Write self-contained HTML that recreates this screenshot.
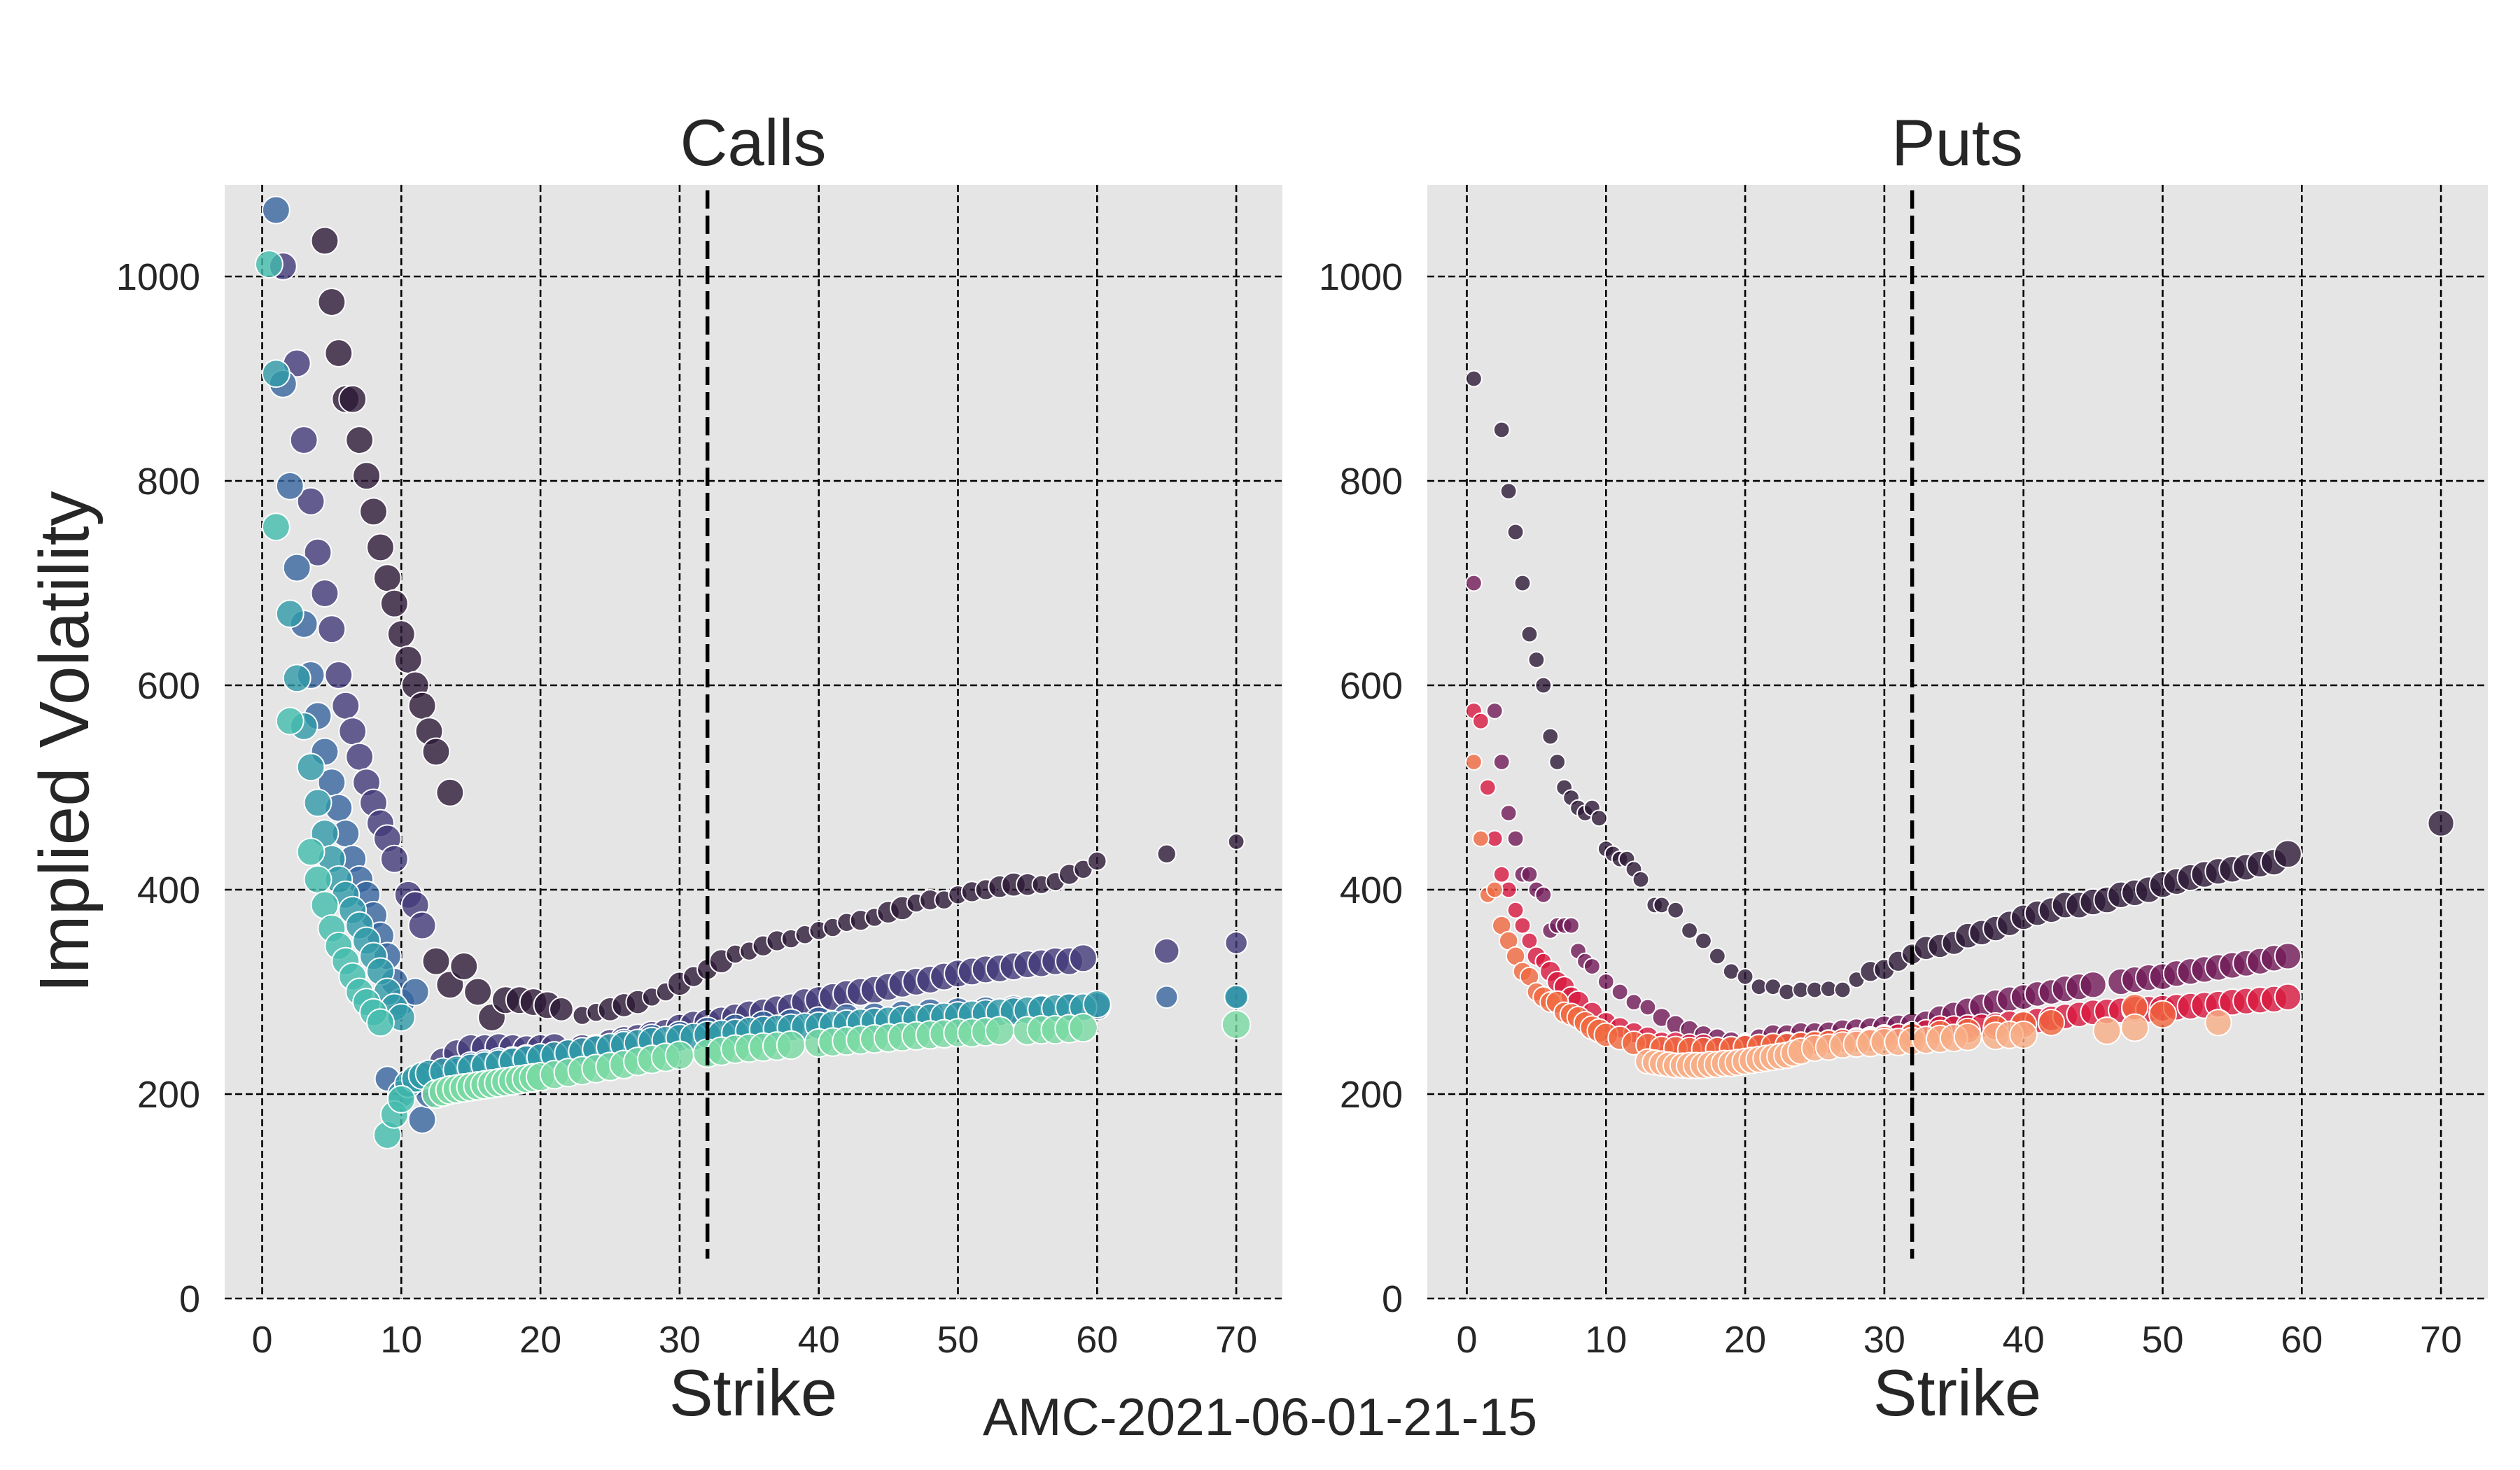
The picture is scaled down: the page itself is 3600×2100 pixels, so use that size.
<!DOCTYPE html>
<html><head><meta charset="utf-8"><style>
html,body{margin:0;padding:0;background:#fff;}
svg{display:block;font-family:"Liberation Sans",Arial,sans-serif;}
</style></head><body>
<svg id="chart" width="3600" height="2100" viewBox="0 0 3600 2100" xmlns="http://www.w3.org/2000/svg">
<rect width="3600" height="2100" fill="#ffffff"/>
<rect x="321" y="264" width="1511" height="1591" fill="#e5e5e5"/>
<rect x="2039" y="264" width="1515" height="1591" fill="#e5e5e5"/>
<g id="calls-grid"></g><g id="puts-grid"></g>
<g id="calls-marks"></g><g id="puts-marks"></g>
<g id="overlay"></g>
<text x="1076" y="236" font-size="94" text-anchor="middle" fill="#262626">Calls</text>
<text x="2796" y="236" font-size="94" text-anchor="middle" fill="#262626">Puts</text>
<text x="1076" y="2022" font-size="94" text-anchor="middle" fill="#262626">Strike</text>
<text x="2796" y="2022" font-size="94" text-anchor="middle" fill="#262626">Strike</text>
<text x="0" y="0" font-size="100" text-anchor="middle" fill="#262626" transform="translate(126,1060) rotate(-90)">Implied Volatility</text>
<text x="1800" y="2050" font-size="75" text-anchor="middle" fill="#262626">AMC-2021-06-01-21-15</text>
</svg>
<script>
const xTicks=[0,10,20,30,40,50,60,70];
const yTicks=[0,200,400,600,800,1000];
const spotPrice=32;
// Calls
const cAs=[4.5,5,5.5,6,6.5,7,7.5,8,8.5,9,9.5,10,10.5,11,11.5,12,12.5,13.5,12.5,13.5,14.5,15.5,16.5,17.5,18.5,19.5,20.5,21.5,23,24,25,26,27,28,29,30,31,32,33,34,35,36,37,38,39,40,41,42,43,44,45,46,47,48,49,50,51,52,53,54,55,56,57,58,59,60,65,70];
const cAv=[1035,975,925,880,880,840,805,770,735,705,680,650,625,600,580,555,535,495,330,307,325,300,275,292,292,290,287,283,277,280,283,287,290,295,300,308,315,322,330,337,340,345,350,352,356,360,363,368,370,373,378,382,387,390,390,395,398,400,403,405,405,405,408,415,420,428,435,447];
const cAz=[8,8,8,8,8,8,8,8,8,8,8,8,8,8,8,8,8,8,8,8,8,8,8,8,8,8,8,5,2,2,5,5,5,2,2,5,3,3,5,2,2,3,3,2,2,2,2,2,3,2,4,5,2,3,2,2,3,3,4,5,4,2,2,3,2,2,2,1];
const cBs=[1.5,2.5,3,3.5,4,4.5,5,5.5,6,6.5,7,7.5,8,8.5,9,9.5,10.5,11,11.5,12,13,14,15,16,17,18,19,20,21,22,23,24,25,26,27,28,29,30,31,32,33,34,35,36,37,38,39,40,41,42,43,44,45,46,47,48,49,50,51,52,53,54,55,56,57,58,59,65,70];
const cBv=[1010,915,840,780,730,690,655,610,580,555,530,505,485,465,450,430,395,385,365,220,232,240,245,245,246,245,244,245,246,240,245,245,250,253,255,258,260,265,268,270,272,275,278,280,283,285,290,292,295,298,300,302,305,308,310,312,315,318,320,322,323,325,327,328,330,330,333,340,348];
const cBz=[8,8,8,8,8,8,8,8,8,8,8,8,8,8,8,8,8,8,8,8,8,8,8,8,8,8,8,8,8,8,8,8,8,8,8,8,8,8,8,8,8,8,8,8,8,8,8,8,8,8,8,8,8,8,8,8,8,8,8,8,8,8,8,8,8,8,8,6,4];
const cCs=[1,1.5,2,2.5,3,3.5,4,4.5,5,5.5,6,6.5,7,7.5,8,8.5,9,9.5,10,11,9,11.5,12,13,14,15,16,17,18,19,20,22,24,26,28,30,32,34,36,38,40,42,44,46,48,50,52,54,56,58,60,65,70];
const cCv=[1065,895,795,715,660,610,570,535,505,480,455,430,410,395,375,355,335,310,290,300,215,175,200,215,222,228,230,232,233,235,236,240,245,250,255,258,262,265,268,270,272,275,276,278,280,281,282,283,284,285,286,295,295];
const cCz=[8,8,8,8,8,8,8,8,8,8,8,8,8,8,8,8,8,8,8,8,6,8,8,8,8,8,8,8,8,8,8,8,8,8,8,8,8,8,8,8,8,8,8,8,8,8,8,8,8,8,8,4,4];
const cDs=[1,2,2.5,3,3.5,4,4.5,5,5.5,6,6.5,7,7.5,8,8.5,9,9.5,10,10,10.5,11,11.5,12,13,14,15,16,17,18,19,20,21,22,23,24,25,26,27,28,29,30,31,32,33,34,35,36,37,38,39,40,41,42,43,44,45,46,47,48,49,50,51,52,53,54,55,56,57,58,59,60,70];
const cDv=[905,670,607,560,520,485,455,430,410,395,380,365,350,335,320,300,285,275,200,210,215,218,220,222,224,226,228,230,232,234,236,238,240,242,244,246,248,250,252,253,255,256,258,259,260,262,263,264,265,266,267,268,269,270,271,272,273,274,275,276,277,278,279,280,281,282,283,284,285,285,288,295];
const cDz=[8,8,8,8,8,8,8,8,8,8,8,8,8,8,8,8,8,8,8,8,8,8,8,8,8,8,8,8,8,8,8,8,8,8,8,8,8,8,8,8,8,8,8,8,8,8,8,8,8,8,8,8,8,8,8,8,8,8,8,8,8,8,8,8,8,8,8,8,8,8,8,5];
const cEs=[0.5,1,2,3.5,4,4.5,5,5.5,6,6.5,7,7.5,8,8.5,9,9.5,10];
const cEv=[1012,755,565,437,410,385,362,345,330,315,300,290,280,270,160,180,195];
const cEz=[8,8,8,8,8,8,8,8,8,8,8,8,8,8,8,8,8];
const cFs=[12.5,13,13.5,14,14.5,15,15.5,16,16.5,17,17.5,18,18.5,19,19.5,20,21,22,23,24,25,26,27,28,29,30,32,33,34,35,36,37,38,40,41,42,43,44,45,46,47,48,49,50,51,52,53,55,56,57,58,59,70];
const cFv=[200,202,204,205,206,207,208,209,210,211,212,213,214,215,216,217,219,221,223,225,227,229,232,234,236,238,240,242,244,245,246,247,248,250,251,252,253,254,255,256,257,258,259,260,260,261,262,262,263,263,264,265,268];
const cFz=[9,9,9,9,9,9,9,9,9,9,9,9,9,9,9,9,9,9,9,9,9,9,9,9,9,9,9,9,9,9,9,9,9,9,9,9,9,9,9,9,9,9,9,9,9,9,9,9,9,9,9,9,9];
// Puts
const pAs=[0.5,2.5,3,3.5,4,4.5,5,5.5,6,6.5,7,7.5,8,8.5,9,9.5,10,10.5,11,11.5,12,12.5,13.5,14,15,16,17,18,19,20,21,22,23,24,25,26,27,28,29,30,31,32,33,34,35,36,37,38,39,40,41,42,43,44,45,46,47,48,49,50,51,52,53,54,55,56,57,58,59,70];
const pAv=[900,850,790,750,700,650,625,600,550,525,500,490,480,475,480,470,440,435,430,430,420,410,385,385,380,360,350,335,320,315,305,305,300,302,302,303,302,312,320,322,330,337,343,345,348,355,358,362,367,373,377,380,385,385,388,390,395,397,400,405,408,412,415,418,420,422,425,427,435,465];
const pAz=[1,1,1,1,1,1,1,1,1,1,1,1,1,1,1,1,1,1,1,1,1,1,1,1,1,1,1,1,1,1,1,1,1,1,1,1,1,1,3,3,3,3,5,5,5,6,6,6,6,6,6,6,7,7,7,7,7,7,7,7,7,7,7,7,7,7,7,7,8,7];
const pBs=[0.5,2,2.5,3,3.5,4,4.5,5,5.5,6,6.5,7,7.5,8,8.5,9,10,11,12,13,14,15,16,17,18,19,20,21,22,23,24,25,26,27,28,29,30,31,32,33,34,35,36,37,38,39,40,41,42,43,44,45,47,48,49,50,51,52,53,54,55,56,57,58,59];
const pBv=[700,575,525,475,450,415,415,400,395,360,365,365,365,340,330,325,310,300,290,285,275,268,263,258,255,252,250,255,258,258,260,260,260,262,263,264,265,266,268,270,275,278,282,286,290,293,295,298,300,303,305,307,310,312,314,315,318,320,322,324,326,328,330,333,335];
const pBz=[1,1,1,1,1,1,1,1,1,1,1,1,1,1,1,1,1,1,1,1,2,2,2,2,2,2,2,2,3,3,3,3,4,4,4,4,5,5,5,5,5,6,6,6,6,6,6,6,6,7,7,7,7,7,7,7,7,7,7,7,7,7,7,7,7];
const pCs=[0.5,1,1.5,2,2.5,3,3.5,4,4.5,5,5.5,6,6.5,7,7.5,8,9,10,11,12,13,14,15,16,17,18,19,20,21,22,23,24,25,26,27,28,29,30,31,32,33,34,35,36,37,38,39,40,41,42,43,44,45,46,47,48,49,50,51,52,53,54,55,56,57,58,59];
const pCv=[575,565,500,450,415,400,380,365,350,335,330,320,310,305,295,290,280,270,265,260,255,250,250,248,248,245,245,247,247,248,250,250,250,252,253,254,255,257,258,260,262,265,265,266,267,268,270,270,272,274,276,278,280,281,282,283,283,284,285,286,287,288,290,291,292,293,295];
const pCz=[1,1,1,1,1,1,1,1,1,2,1,3,3,3,3,4,3,3,3,3,4,4,4,4,4,4,4,4,4,4,4,4,4,4,4,4,4,4,4,4,4,5,5,5,5,5,5,5,6,6,6,6,6,6,6,7,7,7,7,7,7,7,7,7,7,7,7];
const pDs=[0.5,1,1.5,2,2.5,3,3.5,4,4.5,5,5.5,6,6.5,7,7.5,8,8.5,9,9.5,10,11,12,13,14,15,16,17,18,19,20,21,22,23,24,25,26,27,28,29,30,32,34,36,38,40,42,48,50];
const pDv=[525,450,395,400,365,350,335,320,315,300,295,290,290,280,278,275,270,265,262,258,255,250,248,245,245,244,244,244,245,246,247,248,248,249,250,251,252,252,253,255,257,260,262,265,268,270,285,278];
const pDz=[1,1,1,1,2,2,2,2,2,2,3,3,4,3,4,4,4,5,5,5,5,5,5,5,5,5,5,5,5,5,5,5,5,5,5,5,5,5,5,5,6,6,6,6,7,7,7,8];
const pEs=[13,13.5,14,14.5,15,15.5,16,16.5,17,17.5,18,18.5,19,19.5,20,20.5,21,21.5,22,22.5,23,23.5,24,25,26,27,28,29,30,31,32,33,34,35,36,38,39,40,46,48,54];
const pEv=[232,231,230,229,228,228,228,228,228,229,229,230,230,231,232,233,234,235,236,237,238,240,242,245,246,248,249,250,251,251,252,253,254,255,256,257,258,258,262,265,270];
const pEz=[6,6,6,6,6,6,7,7,7,7,7,7,7,7,7,7,7,7,7,7,7,7,7,7,7,7,7,8,8,8,8,8,8,8,8,8,8,8,8,8,7];

const NS='http://www.w3.org/2000/svg';
const Y0=1855, YK=1.46;
const yPos=v=>Y0-v*YK;
const calls={x0:374.5, k:19.88, left:321, right:1832};
const puts={x0:2095.5, k:19.88, left:2039, right:3554};
const xPos=(p,s)=>p.x0+s*p.k;
const rad=z=>7+Math.sqrt(z)*4.4;
function mk(tag,attrs,parent){const e=document.createElementNS(NS,tag);for(const k in attrs)e.setAttribute(k,attrs[k]);parent.appendChild(e);return e;}

function grid(p,g,name){
  xTicks.forEach(t=>{
    const l=mk('line',{x1:xPos(p,t),x2:xPos(p,t),y1:264,y2:1855,stroke:'#000','stroke-width':2.6,'stroke-dasharray':'10,5'},g);
    
    
    const tx=mk('text',{x:xPos(p,t),y:1932,'font-size':54,'text-anchor':'middle',fill:'#262626'},g);
    tx.textContent=t;
    
    
  });
  yTicks.forEach(t=>{
    const l=mk('line',{x1:p.left,x2:p.right,y1:yPos(t),y2:yPos(t),stroke:'#000','stroke-width':2.6,'stroke-dasharray':'10,5'},g);
    
    
    const tx=mk('text',{x:p.left-35,y:yPos(t)+19,'font-size':54,'text-anchor':'end',fill:'#262626'},g);
    tx.textContent=t;
    
    
  });
}
grid(calls,document.getElementById('calls-grid'),'calls');
grid(puts,document.getElementById('puts-grid'),'puts');

function series(p,g,xs,vs,zs,color,name,scale){
  xs.forEach((s,i)=>{
    const v=vs[i]; if(v>1090) return;
    const c=mk('circle',{cx:xPos(p,s),cy:yPos(v),r:rad(zs[i])*scale,fill:color,'fill-opacity':0.8,stroke:'#fff','stroke-width':2},g);
    
    
  });
}
const cg=document.getElementById('calls-marks');
series(calls,cg,cAs,cAv,cAz,'#2d1937','calls-exp-1',1);
series(calls,cg,cBs,cBv,cBz,'#423b79','calls-exp-2',1);
series(calls,cg,cCs,cCv,cCz,'#37659f','calls-exp-3',1);
series(calls,cg,cDs,cDv,cDz,'#2f9aa8','calls-exp-4',1);
series(calls,cg,cEs,cEv,cEz,'#42bbac','calls-exp-5',1);
series(calls,cg,cFs,cFv,cFz,'#78d9a2','calls-exp-6',1);
const pg=document.getElementById('puts-marks');
series(puts,pg,pAs,pAv,pAz,'#2d1937','puts-exp-1',1);
series(puts,pg,pBs,pBv,pBz,'#701a57','puts-exp-2',1);
series(puts,pg,pCs,pCv,pCz,'#d8183f','puts-exp-3',1);
series(puts,pg,pDs,pDv,pDz,'#f0683f','puts-exp-4',1);
series(puts,pg,pEs,pEv,pEz,'#f7ae86','puts-exp-5',1);

const ov=document.getElementById('overlay');
[calls,puts].forEach((p,i)=>{
  const l=mk('line',{x1:xPos(p,spotPrice),x2:xPos(p,spotPrice),y1:272,y2:1798,stroke:'#000','stroke-width':5.5,'stroke-dasharray':'26,10'},ov);
  
  
});
</script>
</body></html>
